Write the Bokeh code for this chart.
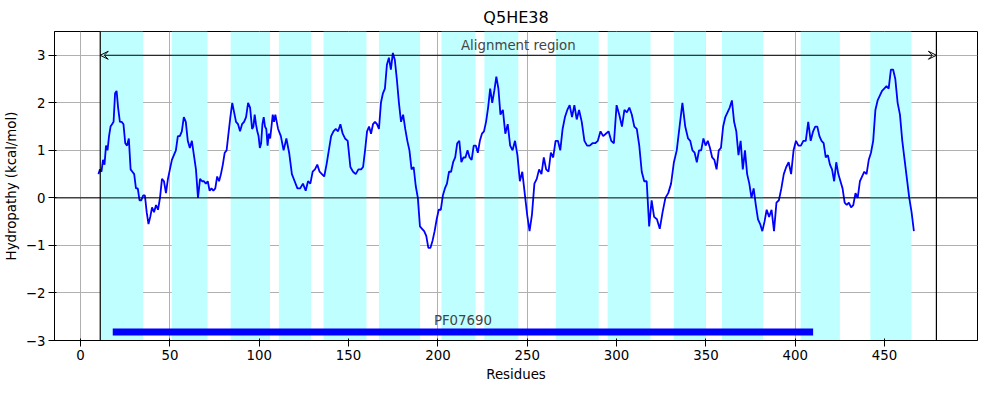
import numpy as np
from bokeh.plotting import figure
from bokeh.models import Span, Arrow, VeeHead, Label, Range1d, FixedTicker
from bokeh.embed import file_html
from bokeh.resources import INLINE

title = "Q5HE38"
# hydropathy values
hydro = [0.5,0.6,0.55,0.8,0.7,1.1,1.0,1.3,1.5,1.55,1.6,2.2,2.25,1.9,1.6,1.6,1.55,1.15,1.1,1.25,0.6,0.55,0.5,0.2,0.2,-0.05,-0.05,0.05,0.05,-0.3,-0.55,-0.4,-0.2,-0.3,-0.15,-0.25,0.0,0.4,0.35,0.1,0.4,0.6,0.8,0.9,1.0,1.3,1.3,1.4,1.7,1.6,1.2,1.05,1.2,0.9,0.6,0.0,0.4,0.35,0.35,0.3,0.35,0.15,0.2,0.15,0.2,0.45,0.35,0.5,0.7,0.95,1.0,1.35,1.7,2.0,1.8,1.6,1.55,1.4,1.55,1.6,1.7,2.0,1.9,1.45,1.5,1.75,1.55,1.4,1.3,1.05,1.15,1.55,1.7,1.5,1.45,1.1,1.35,1.25,1.5,1.75,1.6,1.75,1.45,1.3,1.0,1.25,0.95,0.5,0.35,0.2,0.2,0.3,0.15,0.35,0.3,0.55,0.6,0.7,0.55,0.5,0.45,0.7,1.0,1.3,1.4,1.45,1.4,1.55,1.35,1.25,1.2,0.65,0.55,0.5,0.6,0.6,0.65,1.0,1.4,1.5,1.35,1.55,1.6,1.55,1.45,2.0,2.2,2.3,2.8,2.95,2.7,3.05,2.9,2.5,2.0,1.6,1.75,1.45,1.2,1.0,0.6,0.65,0.25,0.0,-0.6,-0.65,-0.7,-0.8,-1.05,-1.05,-0.9,-0.7,-0.45,-0.25,-0.25,0.05,0.2,0.3,0.55,0.55,0.75,0.85,1.15,1.2,0.75,0.85,0.85,1.0,0.85,0.8,1.1,1.1,0.95,1.2,1.35,1.4,1.6,1.9,2.3,2.0,2.25,2.55,2.3,1.75,1.85,1.35,1.55,1.1,1.0,1.2,0.9,0.35,0.55,0.1,-0.35,-0.7,-0.35,0.3,0.4,0.6,0.5,0.85,0.6,0.55,0.95,0.85,1.2,1.2,1.0,1.45,1.7,1.85,1.95,1.7,1.95,1.65,1.85,1.6,1.2,1.1,1.1,1.15,1.15,1.2,1.4,1.3,1.35,1.4,1.2,1.15,1.95,1.75,1.5,1.85,1.8,1.9,1.75,1.5,1.45,1.1,0.55,0.35,0.35,-0.6,-0.05,-0.4,-0.45,-0.65,-0.3,0.0,0.1,0.3,0.75,1.0,1.5,2.0,1.5,1.25,1.2,1.0,0.95,0.75,1.0,1.0,1.25,1.1,1.2,1.05,0.85,0.8,0.6,1.0,1.05,1.5,1.7,1.8,1.9,2.05,1.6,1.4,0.9,1.2,0.6,1.0,0.5,0.3,0.0,0.2,-0.15,-0.45,-0.55,-0.7,-0.5,-0.25,-0.4,-0.25,-0.7,-0.1,-0.05,0.2,0.5,0.65,0.75,0.5,1.0,1.2,1.1,1.1,1.2,1.2,1.6,1.2,1.4,1.5,1.5,1.3,1.2,1.15,0.85,0.9,0.7,0.6,0.35,0.75,0.5,0.35,0.2,-0.1,-0.15,-0.1,-0.2,-0.15,0.1,0.0,0.35,0.45,0.55,0.5,0.8,0.95,1.2,1.85,2.05,2.15,2.25,2.3,2.35,2.3,2.7,2.7,2.5,2.0,1.75,1.2,0.8,0.4,0.0,-0.3,-0.7]
# residue numbers of landmark samples (sample index -> residue)
landmark_idx = [10,23,42,60,67,85,93,111,122,139,145,163,180,213,227,246,262,275,287,309,323,342,359,380,390]
landmark_res = [10,21,40,60,68,87,96,109,126,148,157,177,197,235,254,279,303,321,340,367,384,410,430,456,469]
residues = np.interp(np.arange(10, 10 + len(hydro)), landmark_idx, landmark_res)

tm_start = [11,51,84,111,136,167,202,226,266,295,332,359,403,442]
tm_end = [35,71,106,129,160,190,221,245,290,319,350,382,425,465]
align_start, align_end = 11, 479
domain_name = "PF07690"
domain_start, domain_end = 18, 410
x_ticks = [0,50,100,150,200,250,300,350,400,450]
y_ticks = [-3,-2,-1,0,1,2,3]

p = figure(width=984, height=384, output_backend="svg", toolbar_location=None,
           x_range=Range1d(-14.6, 502), y_range=Range1d(-3, 3.5),
           title=title, min_border_left=0, min_border_right=7,
           min_border_top=29, min_border_bottom=0)
p.title.align = "center"
p.title.text_font_size = "12pt"
p.title.text_font_style = "normal"
p.title.text_font = "DejaVu Sans"
p.title.text_color = "black"
p.xaxis.axis_label = "Residues"
p.yaxis.axis_label = "Hydropathy (kcal/mol)"
for ax in (p.xaxis[0], p.yaxis[0]):
    ax.axis_label_text_font_style = "normal"
    ax.axis_label_text_font = "DejaVu Sans"
    ax.axis_label_text_font_size = "10pt"
    ax.axis_label_text_color = "black"
    ax.major_label_text_font = "DejaVu Sans"
    ax.major_label_text_font_size = "10pt"
    ax.major_label_text_color = "black"
    ax.minor_tick_line_color = None
    ax.axis_label_standoff = 4
    ax.major_label_standoff = 3
p.xaxis.ticker = FixedTicker(ticks=x_ticks)
p.yaxis.ticker = FixedTicker(ticks=y_ticks)
p.grid.grid_line_color = "#b0b0b0"
p.grid.grid_line_alpha = 1
p.outline_line_color = "black"

p.quad(left=tm_start, right=tm_end, bottom=-3, top=3.5, color="#c0ffff", line_color=None)
p.add_layout(Span(location=0, dimension="width", line_color="black", line_width=1))
for loc in (align_start, align_end):
    p.add_layout(Span(location=loc, dimension="height", line_color="black", line_width=1.2))
p.add_layout(Arrow(start=VeeHead(size=8, line_color="black", fill_color=None),
                   end=VeeHead(size=8, line_color="black", fill_color=None),
                   x_start=align_start, x_end=align_end, y_start=3, y_end=3, line_width=1))
p.add_layout(Label(x=(align_start + align_end) / 2, y=3.05, text="Alignment region",
                   text_align="center", text_font_size="10pt", text_font="DejaVu Sans"))
p.segment(x0=[domain_start], x1=[domain_end], y0=[-2.82], y1=[-2.82], line_color="blue", line_width=7)
p.add_layout(Label(x=(domain_start + domain_end) / 2, y=-2.74, text=domain_name,
                   text_align="center", text_font_size="10pt", text_font="DejaVu Sans"))
p.line(residues, hydro, line_color="blue", line_width=1.8)

open("out.html", "w").write(file_html(p, INLINE))
